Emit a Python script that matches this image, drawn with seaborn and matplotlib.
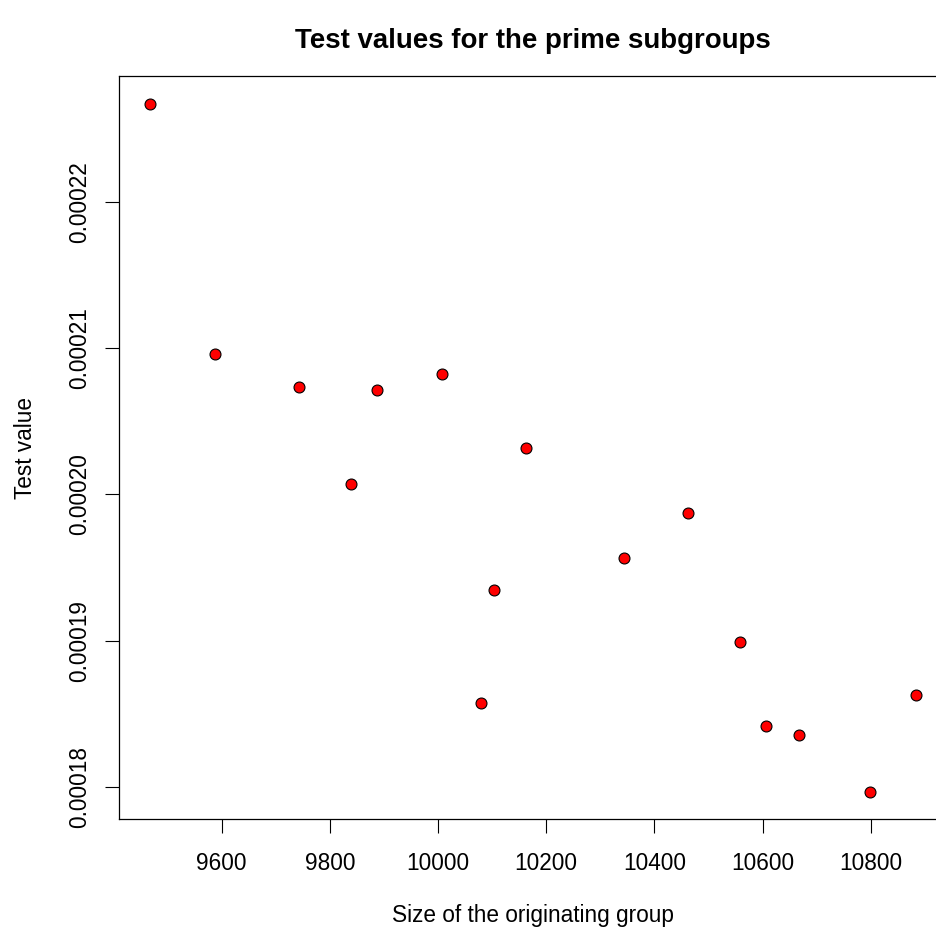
import matplotlib
matplotlib.use("Agg")
import matplotlib.pyplot as plt
import seaborn as sns
import pandas as pd

group_size = [9467, 9587, 9743, 9839, 9887, 10007, 10079, 10103, 10163,
              10343, 10463, 10559, 10607, 10667, 10799, 10883]
test_value = [0.00022675, 0.00020964, 0.00020734, 0.00020070, 0.00020715,
              0.00020823, 0.00018575, 0.00019348, 0.00020320, 0.00019567,
              0.00019873, 0.00018990, 0.00018413, 0.00018356, 0.00017964,
              0.00018626]
x_ticks = [9600, 9800, 10000, 10200, 10400, 10600, 10800]
y_ticks = [0.00018, 0.00019, 0.00020, 0.00021, 0.00022]
y_tick_labels = ["0.00018", "0.00019", "0.00020", "0.00021", "0.00022"]

df = pd.DataFrame({"size": group_size, "value": test_value})

sns.set_style("white")
plt.rcParams["font.family"] = ["Liberation Sans", "DejaVu Sans"]

W, H = 936, 935
fig = plt.figure(figsize=(W / 100, H / 100), dpi=100)
left, right, top, bottom = 119.1, 946.2, 76.2, 819.4
ax = fig.add_axes([left / W, 1 - bottom / H, (right - left) / W, (bottom - top) / H])

sns.scatterplot(data=df, x="size", y="value", ax=ax, color="#ff0000",
                edgecolor="black", linewidth=0.8, s=62, zorder=3, clip_on=False)

xr = max(group_size) - min(group_size)
yr = max(test_value) - min(test_value)
ax.set_xlim(min(group_size) - 0.04 * xr, max(group_size) + 0.04 * xr)
ax.set_ylim(min(test_value) - 0.04 * yr, max(test_value) + 0.04 * yr)

fs = 16.3
ax.set_xticks(x_ticks)
ax.set_xticklabels([str(t) for t in x_ticks])
ax.set_yticks(y_ticks)
ax.set_yticklabels(y_tick_labels, rotation=90, va="center")

ax.tick_params(axis="both", which="major", length=10, width=0.8, color="black",
               labelsize=fs, labelcolor="black", direction="out")
ax.tick_params(axis="x", pad=13.5, bottom=True)
ax.tick_params(axis="y", pad=10.4, left=True)

for sp in ax.spines.values():
    sp.set_visible(True)
    sp.set_color("black")
    sp.set_linewidth(0.9)

ax.set_xlabel("")
ax.set_ylabel("")
cx = (left + right) / 2
cy = (top + bottom) / 2
fig.text(cx / W, 1 - 922 / H, "Size of the originating group", ha="center",
         va="baseline", fontsize=fs, color="black")
fig.text(37.5 / W, 1 - cy / H, "Test value", ha="right", va="center",
         rotation=90, fontsize=fs, color="black")
fig.text(cx / W, 1 - 48 / H, "Test values for the prime subgroups", ha="center",
         va="baseline", fontsize=19.9, fontweight="bold", color="black")

fig.savefig("out.png", dpi=100)
